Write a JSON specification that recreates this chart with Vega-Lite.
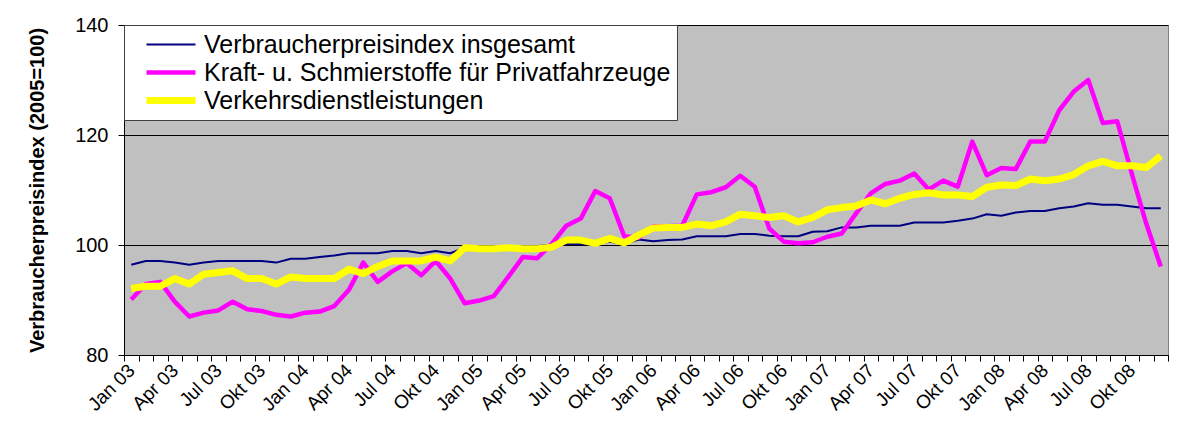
{
  "$schema": "https://vega.github.io/schema/vega-lite/v6.json",
  "width": 1044,
  "height": 330,
  "autosize": "none",
  "padding": {"left": 124, "top": 25, "right": 22, "bottom": 84},
  "background": "white",
  "config": {
    "view": {"fill": "#C0C0C0", "stroke": "#808080", "strokeWidth": 1},
    "font": "Liberation Sans"
  },
  "data": {"values": [
    {"m":"Jan 03","s":"VPI","v":96.4},{"m":"Feb 03","s":"VPI","v":97.1},{"m":"Mär 03","s":"VPI","v":97.1},{"m":"Apr 03","s":"VPI","v":96.8},{"m":"Mai 03","s":"VPI","v":96.4},{"m":"Jun 03","s":"VPI","v":96.8},{"m":"Jul 03","s":"VPI","v":97.1},{"m":"Aug 03","s":"VPI","v":97.1},{"m":"Sep 03","s":"VPI","v":97.1},{"m":"Okt 03","s":"VPI","v":97.1},{"m":"Nov 03","s":"VPI","v":96.8},{"m":"Dez 03","s":"VPI","v":97.5},
    {"m":"Jan 04","s":"VPI","v":97.5},{"m":"Feb 04","s":"VPI","v":97.8},{"m":"Mär 04","s":"VPI","v":98.1},{"m":"Apr 04","s":"VPI","v":98.5},{"m":"Mai 04","s":"VPI","v":98.5},{"m":"Jun 04","s":"VPI","v":98.5},{"m":"Jul 04","s":"VPI","v":98.9},{"m":"Aug 04","s":"VPI","v":98.9},{"m":"Sep 04","s":"VPI","v":98.5},{"m":"Okt 04","s":"VPI","v":98.9},{"m":"Nov 04","s":"VPI","v":98.5},{"m":"Dez 04","s":"VPI","v":99.5},
    {"m":"Jan 05","s":"VPI","v":99.6},{"m":"Feb 05","s":"VPI","v":99.6},{"m":"Mär 05","s":"VPI","v":99.8},{"m":"Apr 05","s":"VPI","v":99.7},{"m":"Mai 05","s":"VPI","v":99.8},{"m":"Jun 05","s":"VPI","v":100.0},{"m":"Jul 05","s":"VPI","v":100.2},{"m":"Aug 05","s":"VPI","v":100.2},{"m":"Sep 05","s":"VPI","v":100.2},{"m":"Okt 05","s":"VPI","v":100.6},{"m":"Nov 05","s":"VPI","v":100.2},{"m":"Dez 05","s":"VPI","v":101.0},
    {"m":"Jan 06","s":"VPI","v":100.7},{"m":"Feb 06","s":"VPI","v":100.9},{"m":"Mär 06","s":"VPI","v":101.0},{"m":"Apr 06","s":"VPI","v":101.6},{"m":"Mai 06","s":"VPI","v":101.6},{"m":"Jun 06","s":"VPI","v":101.6},{"m":"Jul 06","s":"VPI","v":102.0},{"m":"Aug 06","s":"VPI","v":102.0},{"m":"Sep 06","s":"VPI","v":101.7},{"m":"Okt 06","s":"VPI","v":101.6},{"m":"Nov 06","s":"VPI","v":101.6},{"m":"Dez 06","s":"VPI","v":102.4},
    {"m":"Jan 07","s":"VPI","v":102.5},{"m":"Feb 07","s":"VPI","v":103.2},{"m":"Mär 07","s":"VPI","v":103.2},{"m":"Apr 07","s":"VPI","v":103.5},{"m":"Mai 07","s":"VPI","v":103.5},{"m":"Jun 07","s":"VPI","v":103.5},{"m":"Jul 07","s":"VPI","v":104.1},{"m":"Aug 07","s":"VPI","v":104.1},{"m":"Sep 07","s":"VPI","v":104.1},{"m":"Okt 07","s":"VPI","v":104.4},{"m":"Nov 07","s":"VPI","v":104.8},{"m":"Dez 07","s":"VPI","v":105.6},
    {"m":"Jan 08","s":"VPI","v":105.3},{"m":"Feb 08","s":"VPI","v":105.9},{"m":"Mär 08","s":"VPI","v":106.2},{"m":"Apr 08","s":"VPI","v":106.2},{"m":"Mai 08","s":"VPI","v":106.7},{"m":"Jun 08","s":"VPI","v":107.0},{"m":"Jul 08","s":"VPI","v":107.6},{"m":"Aug 08","s":"VPI","v":107.3},{"m":"Sep 08","s":"VPI","v":107.3},{"m":"Okt 08","s":"VPI","v":107.0},{"m":"Nov 08","s":"VPI","v":106.7},{"m":"Dez 08","s":"VPI","v":106.7},

    {"m":"Jan 03","s":"KS","v":90.1},{"m":"Feb 03","s":"KS","v":92.9},{"m":"Mär 03","s":"KS","v":93.3},{"m":"Apr 03","s":"KS","v":89.7},{"m":"Mai 03","s":"KS","v":87.0},{"m":"Jun 03","s":"KS","v":87.7},{"m":"Jul 03","s":"KS","v":88.1},{"m":"Aug 03","s":"KS","v":89.7},{"m":"Sep 03","s":"KS","v":88.3},{"m":"Okt 03","s":"KS","v":88.0},{"m":"Nov 03","s":"KS","v":87.3},{"m":"Dez 03","s":"KS","v":87.0},
    {"m":"Jan 04","s":"KS","v":87.7},{"m":"Feb 04","s":"KS","v":87.9},{"m":"Mär 04","s":"KS","v":88.9},{"m":"Apr 04","s":"KS","v":91.8},{"m":"Mai 04","s":"KS","v":96.8},{"m":"Jun 04","s":"KS","v":93.3},{"m":"Jul 04","s":"KS","v":95.2},{"m":"Aug 04","s":"KS","v":96.7},{"m":"Sep 04","s":"KS","v":94.5},{"m":"Okt 04","s":"KS","v":97.1},{"m":"Nov 04","s":"KS","v":93.9},{"m":"Dez 04","s":"KS","v":89.4},
    {"m":"Jan 05","s":"KS","v":89.9},{"m":"Feb 05","s":"KS","v":90.7},{"m":"Mär 05","s":"KS","v":94.2},{"m":"Apr 05","s":"KS","v":97.8},{"m":"Mai 05","s":"KS","v":97.6},{"m":"Jun 05","s":"KS","v":100.2},{"m":"Jul 05","s":"KS","v":103.5},{"m":"Aug 05","s":"KS","v":104.8},{"m":"Sep 05","s":"KS","v":109.8},{"m":"Okt 05","s":"KS","v":108.5},{"m":"Nov 05","s":"KS","v":101.6},{"m":"Dez 05","s":"KS","v":101.3},
    {"m":"Jan 06","s":"KS","v":103.4},{"m":"Feb 06","s":"KS","v":103.4},{"m":"Mär 06","s":"KS","v":103.5},{"m":"Apr 06","s":"KS","v":109.2},{"m":"Mai 06","s":"KS","v":109.6},{"m":"Jun 06","s":"KS","v":110.5},{"m":"Jul 06","s":"KS","v":112.6},{"m":"Aug 06","s":"KS","v":110.6},{"m":"Sep 06","s":"KS","v":103.0},{"m":"Okt 06","s":"KS","v":100.6},{"m":"Nov 06","s":"KS","v":100.3},{"m":"Dez 06","s":"KS","v":100.5},
    {"m":"Jan 07","s":"KS","v":101.5},{"m":"Feb 07","s":"KS","v":102.1},{"m":"Mär 07","s":"KS","v":105.8},{"m":"Apr 07","s":"KS","v":109.4},{"m":"Mai 07","s":"KS","v":111.1},{"m":"Jun 07","s":"KS","v":111.7},{"m":"Jul 07","s":"KS","v":113.0},{"m":"Aug 07","s":"KS","v":110.1},{"m":"Sep 07","s":"KS","v":111.7},{"m":"Okt 07","s":"KS","v":110.6},{"m":"Nov 07","s":"KS","v":118.8},{"m":"Dez 07","s":"KS","v":112.7},
    {"m":"Jan 08","s":"KS","v":114.0},{"m":"Feb 08","s":"KS","v":113.8},{"m":"Mär 08","s":"KS","v":118.8},{"m":"Apr 08","s":"KS","v":118.8},{"m":"Mai 08","s":"KS","v":124.5},{"m":"Jun 08","s":"KS","v":127.9},{"m":"Jul 08","s":"KS","v":130.0},{"m":"Aug 08","s":"KS","v":122.2},{"m":"Sep 08","s":"KS","v":122.5},{"m":"Okt 08","s":"KS","v":113.0},{"m":"Nov 08","s":"KS","v":103.9},{"m":"Dez 08","s":"KS","v":96.1},

    {"m":"Jan 03","s":"VD","v":92.1},{"m":"Feb 03","s":"VD","v":92.5},{"m":"Mär 03","s":"VD","v":92.5},{"m":"Apr 03","s":"VD","v":93.9},{"m":"Mai 03","s":"VD","v":92.9},{"m":"Jun 03","s":"VD","v":94.7},{"m":"Jul 03","s":"VD","v":95.0},{"m":"Aug 03","s":"VD","v":95.3},{"m":"Sep 03","s":"VD","v":93.9},{"m":"Okt 03","s":"VD","v":93.9},{"m":"Nov 03","s":"VD","v":92.9},{"m":"Dez 03","s":"VD","v":94.2},
    {"m":"Jan 04","s":"VD","v":93.9},{"m":"Feb 04","s":"VD","v":93.9},{"m":"Mär 04","s":"VD","v":93.9},{"m":"Apr 04","s":"VD","v":95.6},{"m":"Mai 04","s":"VD","v":94.8},{"m":"Jun 04","s":"VD","v":96.1},{"m":"Jul 04","s":"VD","v":97.1},{"m":"Aug 04","s":"VD","v":97.1},{"m":"Sep 04","s":"VD","v":97.1},{"m":"Okt 04","s":"VD","v":97.8},{"m":"Nov 04","s":"VD","v":97.1},{"m":"Dez 04","s":"VD","v":99.5},
    {"m":"Jan 05","s":"VD","v":99.3},{"m":"Feb 05","s":"VD","v":99.3},{"m":"Mär 05","s":"VD","v":99.5},{"m":"Apr 05","s":"VD","v":99.3},{"m":"Mai 05","s":"VD","v":99.3},{"m":"Jun 05","s":"VD","v":99.6},{"m":"Jul 05","s":"VD","v":100.9},{"m":"Aug 05","s":"VD","v":100.9},{"m":"Sep 05","s":"VD","v":100.3},{"m":"Okt 05","s":"VD","v":101.2},{"m":"Nov 05","s":"VD","v":100.4},{"m":"Dez 05","s":"VD","v":101.8},
    {"m":"Jan 06","s":"VD","v":103.1},{"m":"Feb 06","s":"VD","v":103.2},{"m":"Mär 06","s":"VD","v":103.2},{"m":"Apr 06","s":"VD","v":103.8},{"m":"Mai 06","s":"VD","v":103.5},{"m":"Jun 06","s":"VD","v":104.2},{"m":"Jul 06","s":"VD","v":105.6},{"m":"Aug 06","s":"VD","v":105.3},{"m":"Sep 06","s":"VD","v":105.0},{"m":"Okt 06","s":"VD","v":105.3},{"m":"Nov 06","s":"VD","v":104.2},{"m":"Dez 06","s":"VD","v":105.0},
    {"m":"Jan 07","s":"VD","v":106.4},{"m":"Feb 07","s":"VD","v":106.8},{"m":"Mär 07","s":"VD","v":107.1},{"m":"Apr 07","s":"VD","v":108.2},{"m":"Mai 07","s":"VD","v":107.5},{"m":"Jun 07","s":"VD","v":108.5},{"m":"Jul 07","s":"VD","v":109.2},{"m":"Aug 07","s":"VD","v":109.5},{"m":"Sep 07","s":"VD","v":109.1},{"m":"Okt 07","s":"VD","v":109.1},{"m":"Nov 07","s":"VD","v":108.8},{"m":"Dez 07","s":"VD","v":110.5},
    {"m":"Jan 08","s":"VD","v":110.9},{"m":"Feb 08","s":"VD","v":110.8},{"m":"Mär 08","s":"VD","v":112.0},{"m":"Apr 08","s":"VD","v":111.7},{"m":"Mai 08","s":"VD","v":112.0},{"m":"Jun 08","s":"VD","v":112.8},{"m":"Jul 08","s":"VD","v":114.4},{"m":"Aug 08","s":"VD","v":115.2},{"m":"Sep 08","s":"VD","v":114.4},{"m":"Okt 08","s":"VD","v":114.4},{"m":"Nov 08","s":"VD","v":114.1},{"m":"Dez 08","s":"VD","v":116.2}
  ]},
  "mark": {"type": "line", "strokeJoin": "round", "strokeCap": "butt"},
  "encoding": {
    "x": {
      "field": "m", "type": "ordinal", "sort": null, "bandPosition": 0.5,
      "scale": {"type": "band", "paddingInner": 0, "paddingOuter": 0},
      "axis": {
        "title": null, "tickBand": "extent", "grid": false,
        "labelAngle": -45, "labelAlign": "right", "labelBaseline": "middle",
        "labelFontSize": 19, "labelColor": "black", "labelPadding": 6,
        "tickSize": 6, "tickColor": "black", "domainColor": "black",
        "labelOverlap": false, "labelBound": false,
        "labelExpr": "indexof(['Jan','Apr','Jul','Okt'], slice(datum.label, 0, 3)) >= 0 ? datum.label : ''"
      }
    },
    "y": {
      "field": "v", "type": "quantitative",
      "scale": {"domain": [80, 140], "nice": false, "zero": false},
      "axis": {
        "title": "Verbraucherpreisindex (2005=100)",
        "values": [80, 100, 120, 140],
        "grid": true, "gridColor": "black", "gridOpacity": 1,
        "tickSize": 6, "tickColor": "black", "domainColor": "black",
        "labelFontSize": 20, "labelColor": "black", "labelPadding": 10,
        "titleFontSize": 20, "titleFontWeight": "bold", "titleColor": "black",
        "titleX": -87, "titleBaseline": "middle"
      }
    },
    "color": {
      "field": "s", "type": "nominal",
      "scale": {"domain": ["VPI", "KS", "VD"], "range": ["#000080", "#FF00FF", "#FFFF00"]},
      "legend": {
        "title": null, "orient": "top-left", "offset": 0,
        "fillColor": "white", "strokeColor": "#404040", "padding": 6,
        "labelFontSize": 25, "labelColor": "black", "labelLimit": 0,
        "symbolType": "stroke", "symbolSize": 2400, "symbolOffset": 13,
        "clipHeight": 27, "rowPadding": 1, "labelOffset": 5,
        "labelExpr": "datum.label == 'VPI' ? 'Verbraucherpreisindex insgesamt' : datum.label == 'KS' ? 'Kraft- u. Schmierstoffe für Privatfahrzeuge' : 'Verkehrsdienstleistungen'"
      }
    },
    "strokeWidth": {
      "field": "s", "type": "nominal",
      "scale": {"domain": ["VPI", "KS", "VD"], "range": [2, 7, 7]},
      "legend": {
        "title": null, "orient": "top-left", "offset": 0,
        "fillColor": "white", "strokeColor": "#404040", "padding": 6,
        "labelFontSize": 25, "labelColor": "black", "labelLimit": 0,
        "symbolType": "stroke", "symbolSize": 2400, "symbolOffset": 13,
        "clipHeight": 27, "rowPadding": 1, "labelOffset": 5,
        "labelExpr": "datum.label == 'VPI' ? 'Verbraucherpreisindex insgesamt' : datum.label == 'KS' ? 'Kraft- u. Schmierstoffe für Privatfahrzeuge' : 'Verkehrsdienstleistungen'"
      }
    }
  }
}
